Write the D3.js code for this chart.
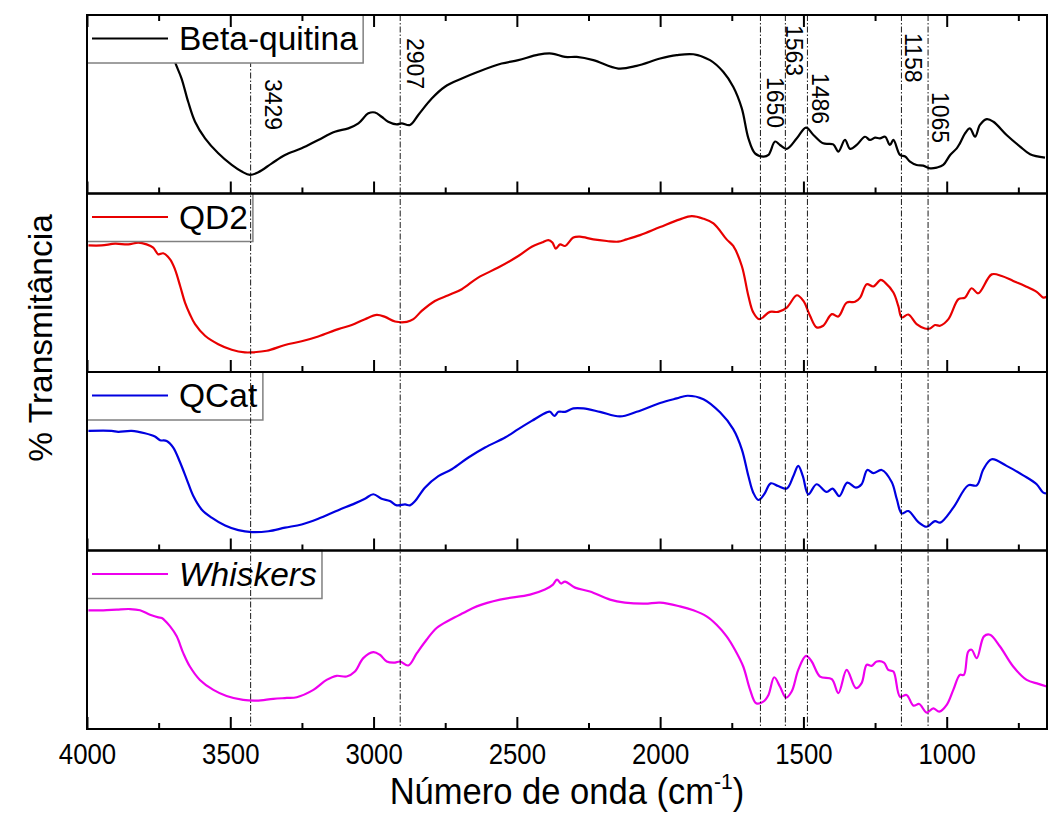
<!DOCTYPE html>
<html>
<head>
<meta charset="utf-8">
<script src="https://cdn.jsdelivr.net/npm/d3@7"></script>
<style>
  html, body { margin: 0; padding: 0; background: #ffffff; }
  svg { display: block; }
  text { font-family: "Liberation Sans", Arial, Helvetica, sans-serif; fill: #000; }
</style>
</head>
<body>
<svg id="chart" width="1055" height="813"></svg>
<script>
// ---------------- DATA ----------------
const seriesNames = ["Beta-quitina", "QD2", "QCat", "Whiskers"];
const seriesColors = ["#000000", "#e80000", "#0000e0", "#ee00ee"];

// [wavenumber (cm-1), % transmittance (arbitrary, 0-100 within each panel)]
const betaQuitina = [
  [3760,100],[3720,88],[3693,73.7],[3670,64.4],[3647,51.4],[3623,40.2],[3588,30.9],[3542,22.5],
  [3495,16.0],[3460,12.3],[3431,10.4],[3402,11.9],[3355,16.9],[3309,21.6],[3251,25.3],[3193,30.0],
  [3135,34.6],[3088,36.5],[3053,39.3],[3018,44.9],[2995,45.4],[2972,43.0],[2949,40.2],[2919,38.7],
  [2902,39.3],[2873,38.4],[2844,44.0],[2797,53.2],[2751,59.8],[2692,64.4],[2635,68.2],[2553,72.8],
  [2495,74.7],[2425,77.8],[2378,78.4],[2332,76.5],[2291,76.5],[2233,74.7],[2146,70.0],[2082,71.5],
  [2000,75.6],[1942,77.5],[1884,78.0],[1826,74.7],[1780,68.2],[1745,59.8],[1715,47.7],[1692,30.9],
  [1669,22.5],[1640,20.7],[1622,21.6],[1599,29.1],[1582,27.2],[1558,25.0],[1523,30.9],[1491,36.9],
  [1465,32.8],[1431,28.1],[1396,27.5],[1378,23.5],[1355,30.0],[1337,25.0],[1314,27.2],[1285,31.8],
  [1268,30.0],[1250,31.3],[1233,30.9],[1215,31.8],[1198,27.2],[1186,30.0],[1163,21.6],[1145,20.7],
  [1128,17.9],[1105,16.0],[1082,15.6],[1058,14.1],[1035,14.5],[1012,16.0],[988,21.6],[965,25.3],
  [954,28.1],[936,33.7],[919,36.5],[901,31.8],[884,38.4],[860,41.7],[837,40.2],[791,32.8],
  [744,26.3],[709,22.0],[657,20.1]
];

const qd2 = [
  [3995,70.9],[3949,70.9],[3902,71.9],[3856,71.5],[3821,72.5],[3792,71.5],[3769,69.7],[3751,65.9],
  [3734,66.5],[3710,63.1],[3693,57.5],[3675,48.2],[3658,38.9],[3641,32.4],[3623,26.8],[3588,20.3],
  [3542,15.6],[3495,12.5],[3449,11.0],[3425,11.0],[3373,11.9],[3309,15.1],[3251,17.2],[3193,19.9],
  [3123,24.0],[3076,26.3],[3030,29.6],[2989,32.0],[2960,30.9],[2925,28.3],[2884,28.1],[2861,29.6],
  [2832,34.2],[2786,39.8],[2739,43.0],[2692,46.4],[2635,52.9],[2565,58.5],[2495,65.0],[2448,70.2],
  [2413,72.5],[2390,73.9],[2376,72.5],[2364,69.1],[2349,71.5],[2332,70.6],[2303,75.3],[2280,75.8],
  [2233,74.3],[2186,73.4],[2146,73.0],[2117,74.3],[2070,76.7],[2000,81.2],[1931,85.5],[1890,87.3],
  [1849,85.9],[1814,83.2],[1768,74.3],[1745,70.6],[1715,59.4],[1692,42.6],[1675,33.4],[1654,29.6],
  [1617,33.7],[1588,33.7],[1558,36.1],[1523,43.0],[1500,39.8],[1477,31.5],[1454,25.0],[1431,25.9],
  [1401,32.4],[1378,31.1],[1349,38.9],[1320,39.3],[1302,41.7],[1279,49.2],[1256,47.9],[1230,51.6],
  [1215,50.1],[1186,44.5],[1169,37.0],[1157,30.6],[1134,32.2],[1105,26.8],[1076,24.4],[1058,24.4],
  [1041,26.3],[1023,25.9],[994,29.6],[959,40.8],[936,41.7],[913,46.9],[890,44.1],[843,54.7],
  [808,53.8],[768,51.0],[727,48.2],[686,44.9],[663,41.7],[650,42.3]
];

const qCat = [
  [3995,67.0],[3914,67.0],[3891,66.5],[3844,67.0],[3798,65.7],[3763,63.9],[3745,61.8],[3722,61.4],
  [3699,57.7],[3675,49.3],[3652,39.9],[3629,30.5],[3600,23.0],[3565,18.4],[3518,14.0],[3472,11.4],
  [3425,10.3],[3367,10.8],[3309,12.8],[3251,14.6],[3193,17.8],[3123,22.6],[3065,26.4],[3030,29.0],
  [3001,31.5],[2972,29.0],[2943,27.7],[2919,25.3],[2890,25.8],[2873,25.3],[2855,27.7],[2821,35.2],
  [2774,41.7],[2727,45.5],[2669,52.1],[2611,57.7],[2541,63.3],[2495,68.0],[2448,72.6],[2396,77.4],
  [2384,77.7],[2369,75.4],[2355,77.7],[2332,77.7],[2303,79.6],[2268,79.6],[2210,77.7],[2140,75.1],
  [2082,77.7],[2000,82.6],[1942,85.2],[1905,86.7],[1849,84.8],[1791,77.4],[1745,68.0],[1715,56.7],
  [1692,41.7],[1675,32.4],[1657,28.3],[1637,31.5],[1614,37.6],[1588,36.1],[1558,34.7],[1535,41.7],
  [1518,47.4],[1502,41.7],[1483,31.5],[1454,37.1],[1419,32.8],[1398,34.7],[1375,30.5],[1347,38.0],
  [1317,35.2],[1297,37.1],[1277,45.1],[1256,43.3],[1227,45.1],[1192,38.4],[1174,28.7],[1157,20.8],
  [1134,22.1],[1099,15.9],[1070,13.3],[1041,16.5],[1023,15.6],[977,24.0],[925,36.5],[895,36.5],
  [872,45.5],[843,51.1],[791,47.4],[733,42.1],[686,37.1],[663,32.4],[650,32.0]
];

const whiskers = [
  [3995,66.5],[3943,66.5],[3896,66.9],[3850,67.2],[3815,66.5],[3780,64.0],[3751,62.5],[3739,62.2],
  [3710,57.5],[3687,51.9],[3664,42.5],[3641,35.0],[3606,27.5],[3559,21.9],[3513,18.5],[3455,16.3],
  [3408,15.9],[3350,16.9],[3303,17.4],[3268,17.8],[3210,21.9],[3164,27.5],[3129,29.8],[3094,29.4],
  [3065,32.2],[3036,39.7],[3001,43.1],[2978,41.6],[2954,37.8],[2925,37.2],[2908,37.8],[2879,35.6],
  [2849,42.5],[2815,50.0],[2780,56.6],[2733,61.2],[2687,65.0],[2640,68.7],[2559,72.5],[2454,75.3],
  [2402,78.1],[2374,80.9],[2360,83.7],[2346,81.5],[2332,82.6],[2297,79.2],[2245,77.0],[2175,72.5],
  [2123,70.8],[2053,70.2],[2000,70.8],[1931,68.7],[1884,66.5],[1838,63.1],[1803,58.4],[1768,51.9],
  [1739,44.4],[1710,35.0],[1686,21.9],[1665,14.4],[1640,15.3],[1622,19.1],[1602,29.0],[1582,23.8],
  [1561,17.6],[1541,21.0],[1518,33.1],[1491,41.0],[1471,37.8],[1442,29.4],[1401,27.9],[1378,20.1],
  [1349,33.1],[1317,22.9],[1297,25.7],[1279,36.0],[1262,35.4],[1244,37.8],[1219,37.2],[1204,33.1],
  [1186,32.2],[1163,18.1],[1140,19.1],[1116,13.1],[1096,14.0],[1070,9.2],[1047,11.6],[1026,9.7],
  [1000,13.5],[977,21.9],[954,30.3],[940,30.3],[925,43.4],[913,44.4],[895,39.7],[870,51.9],
  [849,52.8],[814,46.2],[768,35.0],[721,27.5],[680,25.3],[651,23.8]
];

const allSeries = [betaQuitina, qd2, qCat, whiskers];

const peakPositions = [3429, 2907, 1650, 1563, 1486, 1158, 1065];
const majorTicks = [4000, 3500, 3000, 2500, 2000, 1500, 1000];
const minorTicks = [3750, 3250, 2750, 2250, 1750, 1250, 750];
const xTitle = "Número de onda (cm";
const yTitle = "% Transmitância";

// ---------------- LAYOUT ----------------
const W = 1055, H = 813;
const plotLeft = 87, plotRight = 1047, plotTop = 15, plotBottom = 729;
const nPanels = 4;
const panelH = (plotBottom - plotTop) / nPanels;
// label placement for peak annotations (offset from line, top y)
const peakLabelLayout = [
  {dx: 14.5, y: 79}, {dx: 6.5, y: 38}, {dx: 6.5, y: 77}, {dx: 0.5, y: 25},
  {dx: 4.7, y: 73}, {dx: 3.3, y: 33}, {dx: 4.4, y: 92}
];

const svg = d3.select("#chart");
svg.append("rect").attr("width", W).attr("height", H).attr("fill", "#ffffff");

const x = d3.scaleLinear().domain([4000, 650]).range([plotLeft, plotRight]);

const panels = d3.range(nPanels).map(i => {
  const pTop = plotTop + i * panelH;
  const y = d3.scaleLinear().domain([0, 100]).range([pTop + panelH, pTop]);
  return {i, pTop, pBot: pTop + panelH, y};
});

const gCurves = svg.append("g");
const gLegendsLow = svg.append("g");
const gPeaks = svg.append("g");
const gLegendTop = svg.append("g");
const gFrames = svg.append("g");

// curves
panels.forEach(p => {
  const line = d3.line()
    .x(d => x(d[0]))
    .y(d => p.y(d[1]))
    .curve(d3.curveCatmullRom.alpha(0.5));
  gCurves.append("path")
    .datum(allSeries[p.i])
    .attr("d", line)
    .attr("fill", "none")
    .attr("stroke", seriesColors[p.i])
    .attr("stroke-width", 2.2)
    .attr("stroke-linejoin", "round");
});

// legends
function drawLegend(g, p) {
  const lg = g.append("g");
  const rect = lg.append("rect")
    .attr("x", plotLeft).attr("y", p.pTop)
    .attr("height", 48)
    .attr("fill", "#ffffff")
    .attr("stroke", "#808080").attr("stroke-width", 1.5);
  lg.append("line")
    .attr("x1", plotLeft + 5).attr("x2", plotLeft + 81)
    .attr("y1", p.pTop + 23.5).attr("y2", p.pTop + 23.5)
    .attr("stroke", seriesColors[p.i]).attr("stroke-width", 2.2);
  const t = lg.append("text")
    .attr("x", plotLeft + 92).attr("y", p.pTop + 35)
    .attr("font-size", 33.5)
    .style("font-style", p.i === 3 ? "italic" : "normal")
    .text(seriesNames[p.i]);
  const bb = t.node().getBBox();
  rect.attr("width", bb.x + bb.width + 5 - plotLeft);
}
panels.forEach(p => drawLegend(p.i === 0 ? gLegendTop : gLegendsLow, p));

// peak reference lines + labels
peakPositions.forEach((wn, k) => {
  gPeaks.append("line")
    .attr("x1", x(wn)).attr("x2", x(wn))
    .attr("y1", plotTop).attr("y2", plotBottom)
    .attr("stroke", "#000").attr("stroke-width", 0.9)
    .attr("stroke-dasharray", "6,2,1.5,2");
  const L = peakLabelLayout[k];
  gPeaks.append("text")
    .attr("transform", `translate(${x(wn) + L.dx},${L.y}) rotate(90)`)
    .attr("font-size", 23)
    .text(wn);
});

// frames
panels.forEach(p => {
  gFrames.append("rect")
    .attr("x", plotLeft).attr("y", p.pTop)
    .attr("width", plotRight - plotLeft).attr("height", panelH)
    .attr("fill", "none").attr("stroke", "#000").attr("stroke-width", 2);
});

// axes (ticks inward)
function addAxis(p, isTop, withLabels) {
  const yPos = isTop ? p.pTop : p.pBot;
  const mk = isTop ? d3.axisTop : d3.axisBottom;
  const major = mk(x).tickValues(majorTicks).tickSizeInner(-12).tickSizeOuter(0)
    .tickPadding(14).tickFormat(withLabels ? d3.format("d") : () => "");
  const minor = mk(x).tickValues(minorTicks).tickSizeInner(-6).tickSizeOuter(0)
    .tickFormat(() => "");
  const g1 = gFrames.append("g").attr("transform", `translate(0,${yPos})`).call(major);
  const g2 = gFrames.append("g").attr("transform", `translate(0,${yPos})`).call(minor);
  [g1, g2].forEach(g => {
    g.select(".domain").remove();
    g.selectAll("line").attr("stroke", "#000").attr("stroke-width", 2);
  });
  g1.selectAll("text")
    .attr("font-size", 30)
    .attr("transform", "scale(0.86,1)")
    .style("font-family", '"Liberation Sans", Arial, sans-serif')
    .attr("fill", "#000");
}
addAxis(panels[0], true, false);
panels.forEach((p, i) => addAxis(p, false, i === nPanels - 1));

// axis titles
const xtG = svg.append("g").attr("transform", `translate(${(plotLeft + plotRight) / 2},804) scale(0.96,1)`);
const xt = xtG.append("text")
  .attr("x", 0).attr("y", 0)
  .attr("text-anchor", "middle")
  .attr("font-size", 36);
xt.append("tspan").text(xTitle);
xt.append("tspan").attr("font-size", 22).attr("dy", -15).text("-1");
xt.append("tspan").attr("dy", 15).text(")");

svg.append("text")
  .attr("transform", `translate(52,338) rotate(-90)`)
  .attr("text-anchor", "middle")
  .attr("font-size", 33.5)
  .text(yTitle);
</script>
</body>
</html>
